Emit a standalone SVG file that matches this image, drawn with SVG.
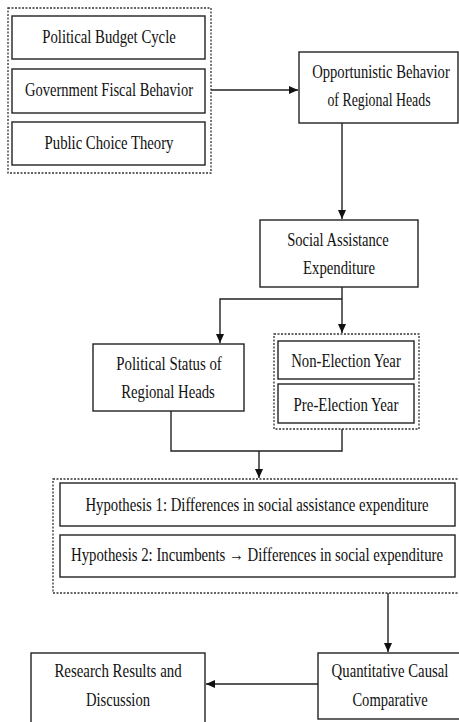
<svg xmlns="http://www.w3.org/2000/svg" width="459" height="722" viewBox="0 0 459 722">
<style>
.box{fill:#fff;stroke:#222;stroke-width:1.4}
.grp{fill:none;stroke:#333;stroke-width:1.3;stroke-dasharray:2 1.5}
.t{font-family:"Liberation Serif","Times New Roman",serif;font-size:19px;fill:#111;text-anchor:middle}
.c{fill:none;stroke:#222;stroke-width:1.4}
</style>
<defs>
<marker id="ah" markerWidth="9" markerHeight="8" refX="9" refY="4" orient="auto" markerUnits="userSpaceOnUse">
<path d="M0,0 L9,4 L0,8 Z" fill="#111"/>
</marker>
</defs>
<rect width="459" height="722" fill="#fff"/>

<g id="connectors">
<path class="c" d="M211,90 H298" marker-end="url(#ah)"/>
<path class="c" d="M342,123 V219" marker-end="url(#ah)"/>
<path class="c" d="M342,287 V333" marker-end="url(#ah)"/>
<path class="c" d="M342,299 H220 V343" marker-end="url(#ah)"/>
<path class="c" d="M171,411 V451 H342 V429"/>
<path class="c" d="M259,451 V478" marker-end="url(#ah)"/>
<path class="c" d="M388,593 V652" marker-end="url(#ah)"/>
<path class="c" d="M318,684 H206" marker-end="url(#ah)"/>
</g>

<g id="theory-group">
<rect class="grp" x="8" y="8" width="203" height="165"/>
<g id="political-budget-cycle">
<rect class="box" x="12" y="16" width="193" height="43"/>
<text class="t" transform="translate(109,43) scale(0.8,1)" textLength="167" lengthAdjust="spacingAndGlyphs">Political Budget Cycle</text>
</g>
<g id="government-fiscal-behavior">
<rect class="box" x="12" y="69" width="193" height="44"/>
<text class="t" transform="translate(109,96) scale(0.8,1)" textLength="210" lengthAdjust="spacingAndGlyphs">Government Fiscal Behavior</text>
</g>
<g id="public-choice-theory">
<rect class="box" x="12" y="122" width="193" height="43"/>
<text class="t" transform="translate(109,149) scale(0.8,1)" textLength="161" lengthAdjust="spacingAndGlyphs">Public Choice Theory</text>
</g>
</g>

<g id="opportunistic-behavior">
<rect class="box" x="299" y="52" width="159" height="71"/>
<text class="t" transform="translate(381,78) scale(0.8,1)" textLength="172" lengthAdjust="spacingAndGlyphs">Opportunistic Behavior</text>
<text class="t" transform="translate(379,106) scale(0.8,1)" textLength="129" lengthAdjust="spacingAndGlyphs">of Regional Heads</text>
</g>

<g id="social-assistance-expenditure">
<rect class="box" x="260" y="220" width="158" height="67"/>
<text class="t" transform="translate(338,246) scale(0.8,1)" textLength="127" lengthAdjust="spacingAndGlyphs">Social Assistance</text>
<text class="t" transform="translate(339,274) scale(0.8,1)" textLength="90" lengthAdjust="spacingAndGlyphs">Expenditure</text>
</g>

<g id="political-status">
<rect class="box" x="93" y="344" width="151" height="67"/>
<text class="t" transform="translate(169,370) scale(0.8,1)" textLength="132" lengthAdjust="spacingAndGlyphs">Political Status of</text>
<text class="t" transform="translate(168,398) scale(0.8,1)" textLength="117" lengthAdjust="spacingAndGlyphs">Regional Heads</text>
</g>

<g id="election-year-group">
<rect class="grp" x="274" y="334" width="145" height="95"/>
<g id="non-election-year">
<rect class="box" x="278" y="341" width="136" height="38"/>
<text class="t" transform="translate(346,367) scale(0.8,1)" textLength="137" lengthAdjust="spacingAndGlyphs">Non-Election Year</text>
</g>
<g id="pre-election-year">
<rect class="box" x="278" y="384" width="136" height="39"/>
<text class="t" transform="translate(346,411) scale(0.8,1)" textLength="131" lengthAdjust="spacingAndGlyphs">Pre-Election Year</text>
</g>
</g>

<g id="hypothesis-group">
<rect class="grp" x="53" y="479" width="420" height="114"/>
<g id="hypothesis-1">
<rect class="box" x="60" y="483" width="395" height="43"/>
<text class="t" transform="translate(257,511) scale(0.8,1)" textLength="429" lengthAdjust="spacingAndGlyphs">Hypothesis 1: Differences in social assistance expenditure</text>
</g>
<g id="hypothesis-2">
<rect class="box" x="60" y="535" width="395" height="42"/>
<text class="t" transform="translate(257,561) scale(0.8,1)" textLength="465" lengthAdjust="spacingAndGlyphs">Hypothesis 2: Incumbents → Differences in social expenditure</text>
</g>
</g>

<g id="quantitative-causal-comparative">
<rect class="box" x="318" y="653" width="142" height="66"/>
<text class="t" transform="translate(390,677) scale(0.8,1)" textLength="146" lengthAdjust="spacingAndGlyphs">Quantitative Causal</text>
<text class="t" transform="translate(390,706) scale(0.8,1)" textLength="94" lengthAdjust="spacingAndGlyphs">Comparative</text>
</g>

<g id="research-results">
<rect class="box" x="31" y="653" width="174" height="75"/>
<text class="t" transform="translate(118,677) scale(0.8,1)" textLength="159" lengthAdjust="spacingAndGlyphs">Research Results and</text>
<text class="t" transform="translate(118,706) scale(0.8,1)" textLength="80" lengthAdjust="spacingAndGlyphs">Discussion</text>
</g>
</svg>
